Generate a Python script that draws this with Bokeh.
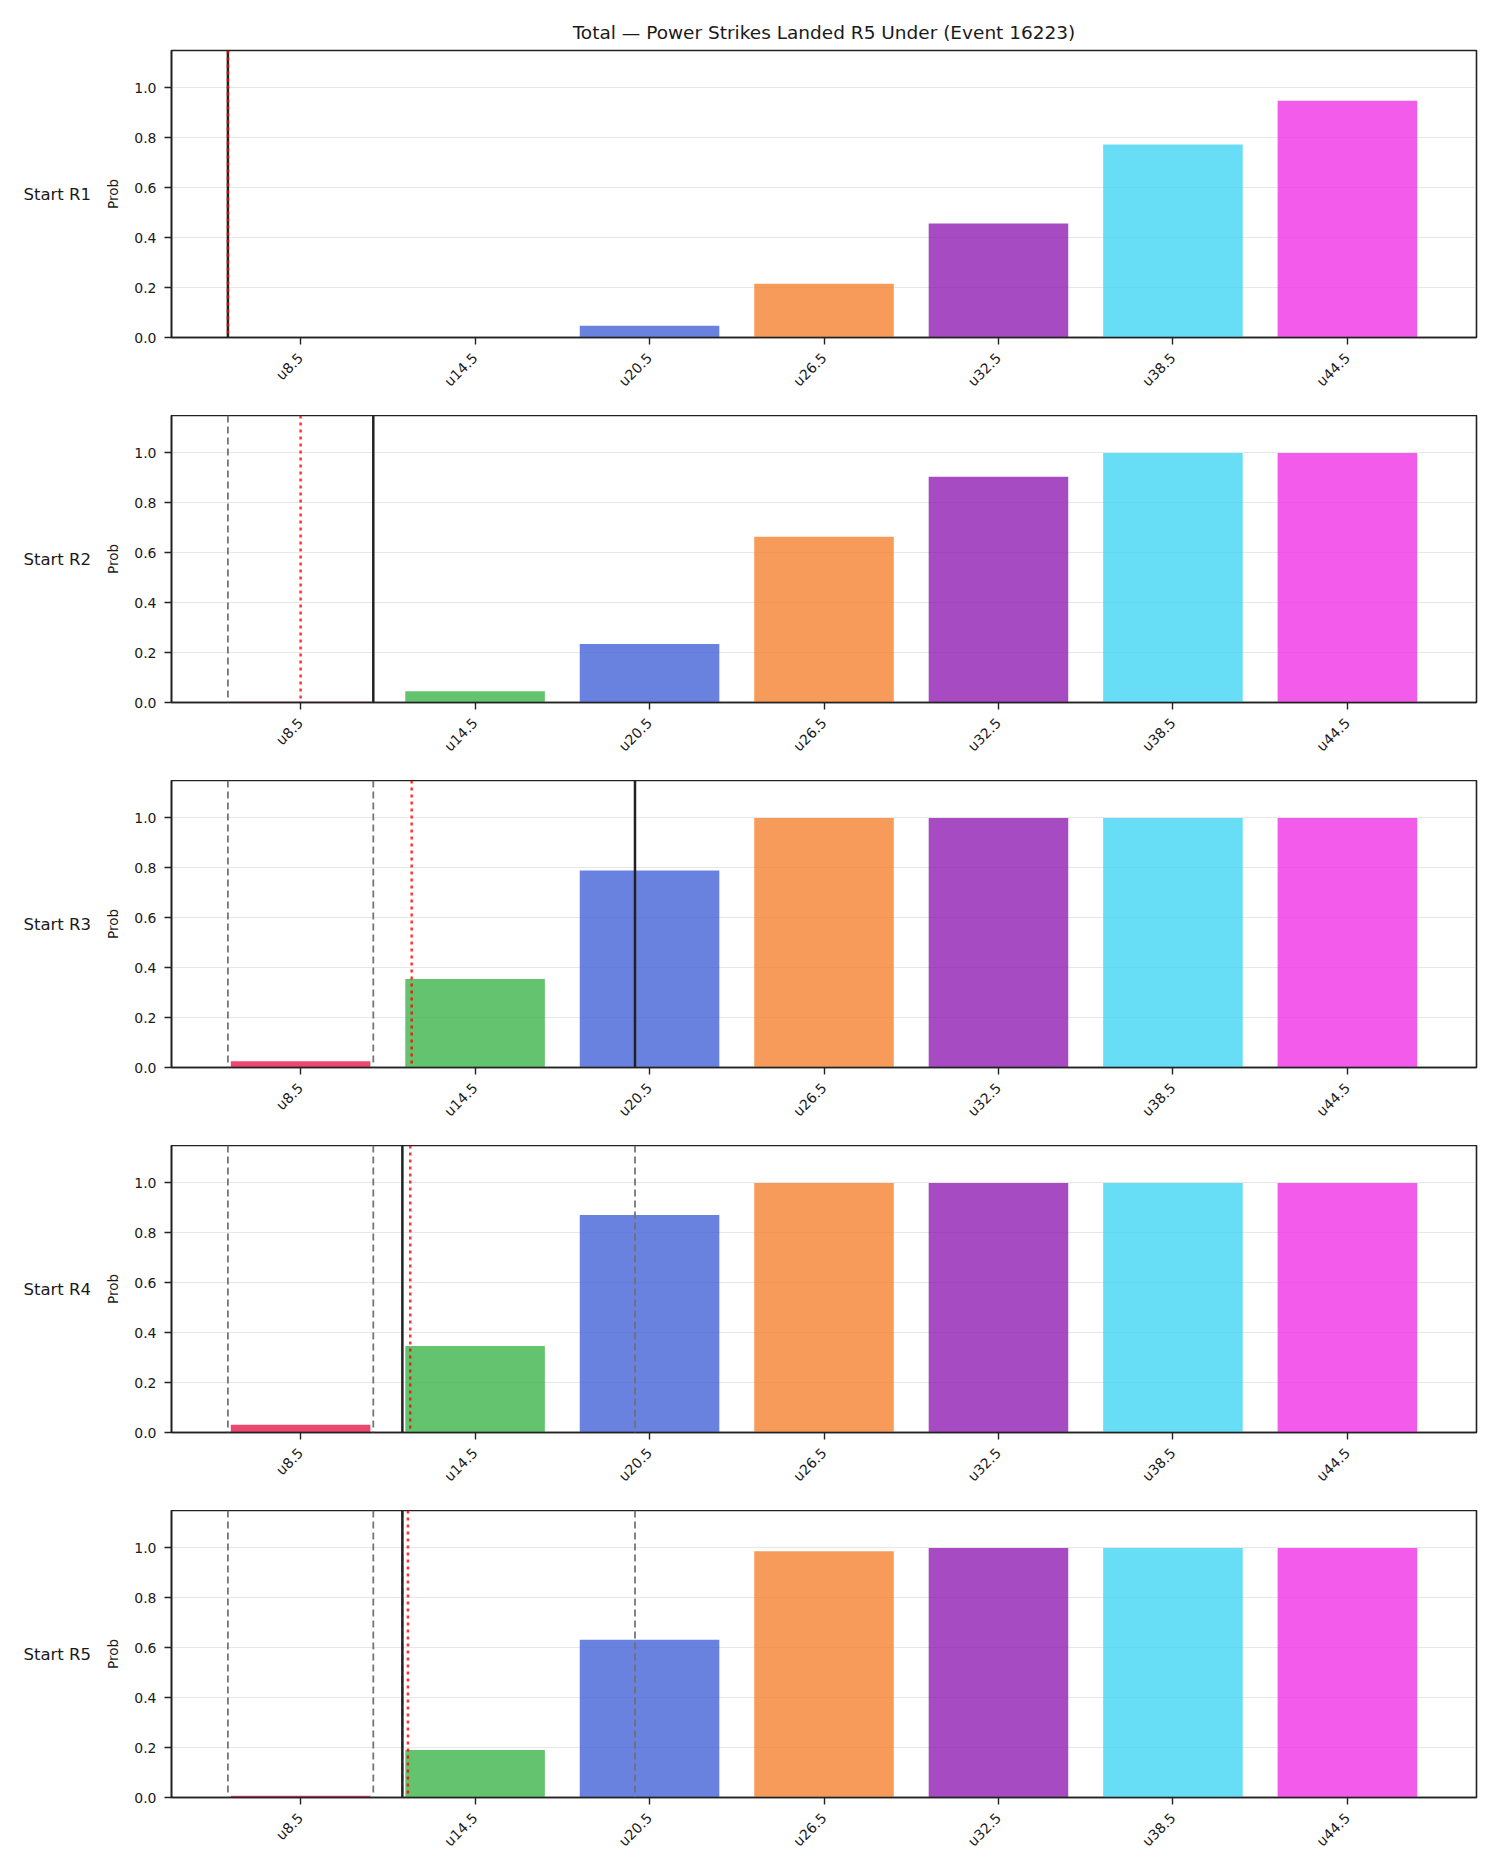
import math

from bokeh.core.properties import value
from bokeh.embed import file_html
from bokeh.layouts import column, row
from bokeh.models import (ColumnDataSource, FixedTicker, NumeralTickFormatter,
                          Range1d, Span)
from bokeh.plotting import figure
from bokeh.resources import INLINE

# Under-lines (strike thresholds) and their tick labels
thresholds = [8.5, 14.5, 20.5, 26.5, 32.5, 38.5, 44.5]
threshold_labels = ["u8.5", "u14.5", "u20.5", "u26.5", "u32.5", "u38.5", "u44.5"]

round_labels = ["Start R1", "Start R2", "Start R3", "Start R4", "Start R5"]

# Probability of finishing under each line, by starting round
prob_start_r1 = [0.0, 0.0, 0.047, 0.215, 0.457, 0.773, 0.949]
prob_start_r2 = [0.003, 0.045, 0.234, 0.664, 0.905, 1.0, 1.0]
prob_start_r3 = [0.025, 0.355, 0.789, 1.0, 1.0, 1.0, 1.0]
prob_start_r4 = [0.031, 0.347, 0.872, 1.0, 1.0, 1.0, 1.0]
prob_start_r5 = [0.007, 0.190, 0.632, 0.987, 1.0, 1.0, 1.0]

# Strike count at the start of each round (solid line; earlier rounds dashed)
current_total = [6, 11, 20, 12, 12]
# Projected total (dotted red line)
projected_total = [6, 8.5, 12.32, 12.27, 12.19]

bar_colors = ["#e6194b", "#3cb44b", "#4363d8", "#f58231", "#911eb4", "#42d4f4", "#f032e6"]

TITLE = "Total \u2014 Power Strikes Landed R5 Under (Event 16223)"
FONT = "DejaVu Sans"
INK = "#1a1a1a"
SPINE = "#222222"

FRAME_W = 1305
FRAME_H = 287
LABEL_COL_W = 91      # strip holding the row labels
AXIS_COL_W = 80       # room for y ticks and the "Prob" label
LABEL_INDENT = 23

round_probs = [prob_start_r1, prob_start_r2, prob_start_r3, prob_start_r4, prob_start_r5]

step = thresholds[1] - thresholds[0]
bar_width = 0.8 * step
pad = 0.05 * (thresholds[-1] - thresholds[0] + bar_width)
x_lo = thresholds[0] - bar_width / 2 - pad
x_hi = thresholds[-1] + bar_width / 2 + pad
y_hi = 1.15

rows = []
n = len(round_labels)
for i, (row_label, probs) in enumerate(zip(round_labels, round_probs)):
    first = i == 0
    last = i == n - 1
    top_border = 50 if first else 0
    bottom_border = 79 if last else 78

    # --- row label strip ---
    lab = figure(
        frame_width=LABEL_COL_W, frame_height=FRAME_H,
        x_range=Range1d(0, LABEL_COL_W), y_range=Range1d(0, y_hi),
        output_backend="svg", toolbar_location=None,
        x_axis_location=None, y_axis_location=None,
        min_border_left=0, min_border_right=0,
        min_border_top=top_border, min_border_bottom=bottom_border,
        background_fill_color="white", border_fill_color="white",
    )
    lab.outline_line_color = None
    lab.xgrid.visible = False
    lab.ygrid.visible = False
    lab.text(x=[LABEL_INDENT], y=[y_hi / 2], text=[row_label],
             text_font=value(FONT), text_font_size="16.5px", text_color=INK,
             text_align="left", text_baseline="middle")

    # --- bar panel ---
    p = figure(
        frame_width=FRAME_W, frame_height=FRAME_H,
        x_range=Range1d(x_lo, x_hi), y_range=Range1d(0, y_hi),
        output_backend="svg", toolbar_location=None,
        min_border_left=AXIS_COL_W, min_border_right=24,
        min_border_top=top_border, min_border_bottom=bottom_border,
        title=TITLE if first else None,
        background_fill_color="white", border_fill_color="white",
    )
    if first:
        p.title.text_font = FONT
        p.title.text_font_size = "18.5px"
        p.title.text_font_style = "normal"
        p.title.text_color = INK
        p.title.align = "center"
        p.title.standoff = 15

    p.outline_line_color = SPINE
    p.outline_line_width = 1.6
    p.outline_line_alpha = 1.0

    src = ColumnDataSource(dict(x=thresholds, top=probs, color=bar_colors))
    p.vbar(x="x", top="top", width=bar_width, bottom=0, source=src,
           fill_color="color", fill_alpha=0.8, line_color=None)

    # earlier rounds' strike counts
    for v in current_total[:i]:
        p.add_layout(Span(location=v, dimension="height", line_color="#6f6f6f",
                          line_alpha=0.95, line_width=1.8, line_dash="7 4"))
    p.add_layout(Span(location=current_total[i], dimension="height",
                      line_color=SPINE, line_width=2.5))
    p.add_layout(Span(location=projected_total[i], dimension="height",
                      line_color="red", line_alpha=0.8, line_width=2.5,
                      line_dash="3 4"))

    p.xgrid.visible = False
    p.ygrid.grid_line_color = "#b0b0b0"
    p.ygrid.grid_line_alpha = 0.3
    p.ygrid.grid_line_width = 1

    xa = p.xaxis[0]
    xa.ticker = FixedTicker(ticks=thresholds)
    xa.major_label_overrides = {t: lab_ for t, lab_ in zip(thresholds, threshold_labels)}
    xa.major_label_orientation = math.pi / 4
    xa.major_label_standoff = 11
    xa.minor_tick_line_color = None

    ya = p.yaxis[0]
    ya.ticker = FixedTicker(ticks=[0.0, 0.2, 0.4, 0.6, 0.8, 1.0])
    ya.formatter = NumeralTickFormatter(format="0.0")
    ya.minor_tick_line_color = None
    ya.major_label_standoff = 8
    ya.axis_label = "Prob"
    ya.axis_label_text_font = FONT
    ya.axis_label_text_font_size = "13.5px"
    ya.axis_label_text_font_style = "normal"
    ya.axis_label_text_color = INK
    ya.axis_label_standoff = 10

    for ax in (xa, ya):
        ax.axis_line_color = SPINE
        ax.axis_line_width = 1.6
        ax.major_tick_line_color = SPINE
        ax.major_tick_line_width = 1.4
        ax.major_tick_out = 7
        ax.major_tick_in = 0
        ax.major_label_text_font = FONT
        ax.major_label_text_font_size = "14px"
        ax.major_label_text_color = INK

    rows.append(row(lab, p, spacing=0))

layout = column(*rows, spacing=0)

with open("out.html", "w") as f:
    f.write(file_html(layout, INLINE))
